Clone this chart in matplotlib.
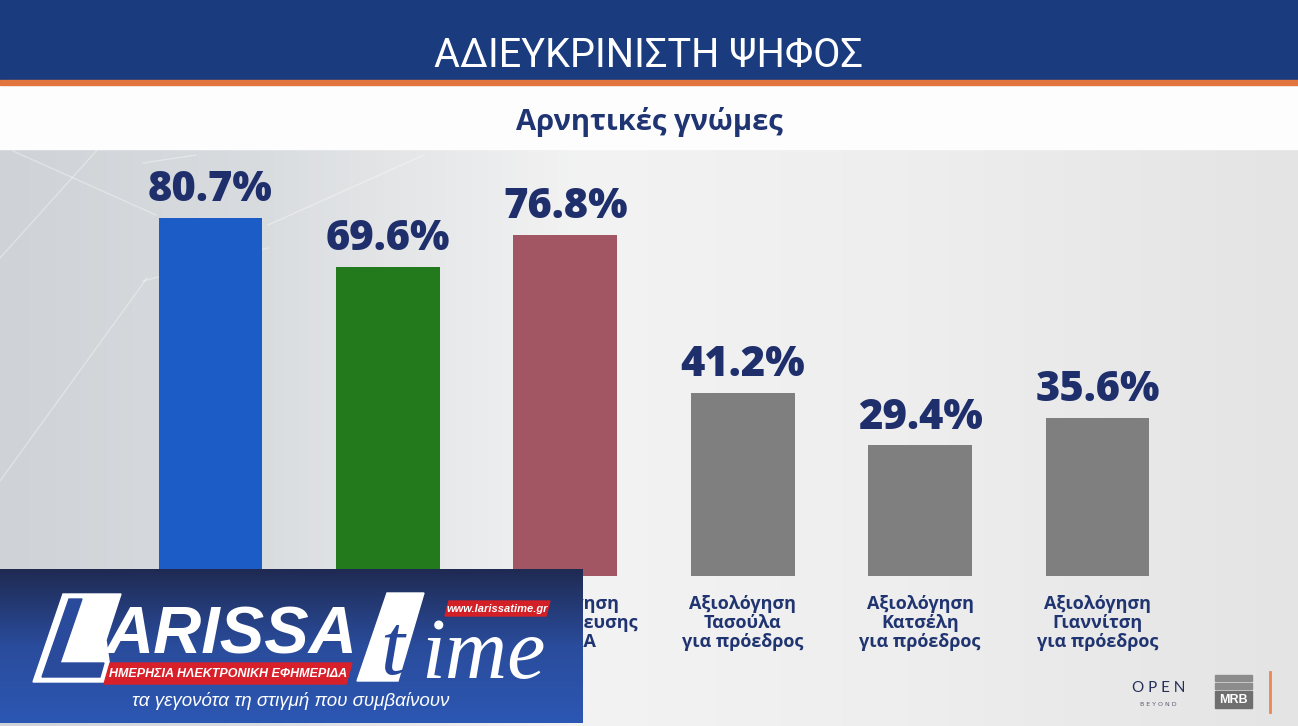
import matplotlib.pyplot as plt
import numpy as np
from matplotlib.patches import Polygon, Rectangle
from matplotlib.colors import LinearSegmentedColormap

W, H = 1298, 726

title = "ΑΔΙΕΥΚΡΙΝΙΣΤΗ ΨΗΦΟΣ"
subtitle = "Αρνητικές γνώμες"
categories = [
    "Αξιολόγηση\nκυβέρνησης",
    "Αξιολόγηση\nαντιπολίτευσης\nΠΑΣΟΚ",
    "Αξιολόγηση\nαντιπολίτευσης\nΣΥΡΙΖΑ",
    "Αξιολόγηση\nΤασούλα\nγια πρόεδρος",
    "Αξιολόγηση\nΚατσέλη\nγια πρόεδρος",
    "Αξιολόγηση\nΓιαννίτση\nγια πρόεδρος",
]
values = [80.7, 69.6, 76.8, 41.2, 29.4, 35.6]
bar_colors = ["#1c5cc6", "#237a1d", "#a25562", "#7f7f7f", "#7f7f7f", "#7f7f7f"]

NAVY = "#1f2f6c"

fig = plt.figure(figsize=(W / 100, H / 100), dpi=100)

# --- background layer (pixel coords) ---
bg = fig.add_axes([0, 0, 1, 1])
bg_cmap = LinearSegmentedColormap.from_list(
    "bg", [(0, "#cfd3d7"), (0.2, "#d9dcdf"), (0.45, "#f3f3f3"), (0.7, "#eeeeee"), (1, "#e4e4e4")])
bg.imshow(np.linspace(0, 1, 256)[None, :], cmap=bg_cmap, extent=(0, W, H, 149), aspect="auto")
# faint light streaks on the left
for (x0, y0), (x1, y1) in [((98, 149), (0, 258)), ((13, 151), (156, 215)), ((143, 281), (268, 248)),
                           ((268, 225), (424, 155)), ((143, 163), (196, 155)), ((0, 481), (147, 278))]:
    bg.plot([x0, x1], [y0, y1], color="white", lw=1, alpha=0.35)
bg.add_patch(Rectangle((0, 85), W, 64, color="#fdfdfd"))
bg.add_patch(Rectangle((0, 0), W, 80, color="#1a3c7e"))
bg.add_patch(Rectangle((0, 80), W, 5, color="#e2743e"))
bg.text(W / 2, 67, title, ha="center", va="baseline", color="white",
        fontsize=28.5, family="Roboto", fontweight="normal")
bg.text(W / 2, 130, subtitle, ha="center", va="baseline", color="#1f3472",
        fontsize=21, family="Open Sans", fontweight="bold")
bg.set_xlim(0, W)
bg.set_ylim(H, 0)
bg.axis("off")

# --- bars ---
ax = fig.add_axes([0, (H - 576) / H, 1, 444 / H])
ax.patch.set_alpha(0)
x = np.arange(len(values))
ax.bar(x, values, width=0.586, color=bar_colors)
for i, v in enumerate(values):
    ax.annotate(f"{v:.1f}%", (i, v), xytext=(0, 12), textcoords="offset points",
                ha="center", va="baseline", fontsize=30, fontweight="heavy",
                family="Open Sans", color=NAVY)
    ax.annotate(categories[i], (i, 0), xytext=(0, -14), textcoords="offset points",
                ha="center", va="top", fontsize=13, fontweight="bold",
                family="Open Sans", color="#1f3470", linespacing=1.05)
ax.set_xlim(-210.5 / 177.4, (W - 210.5) / 177.4)
ax.set_ylim(0, 100)
ax.axis("off")

# --- overlay: larissatime logo + source logos ---
ov = fig.add_axes([0, 0, 1, 1])
ov.patch.set_alpha(0)
logo_cmap = LinearSegmentedColormap.from_list("logo", ["#1f2a52", "#2a4c9c", "#2c57b3"])
ov.imshow(np.linspace(0, 1, 256)[:, None], cmap=logo_cmap, extent=(0, 583, 723, 569), aspect="auto")

# the "L" block
ov.add_patch(Polygon([(33, 682), (63, 594), (121, 594), (106, 640), (112, 682)], color="white"))
ov.add_patch(Polygon([(42, 677), (69, 599), (82, 599), (60, 663), (104, 663), (100, 677)], color="#2a4a9c"))
ov.text(105, 654, "ARISSA", ha="left", va="baseline", color="white", fontsize=48,
        family="Liberation Sans", fontweight="bold", style="italic")

# red badge
ov.add_patch(Polygon([(104, 684), (110, 663), (352, 663), (346, 684)], color="#d8202a"))
ov.text(228, 674, "ΗΜΕΡΗΣΙΑ ΗΛΕΚΤΡΟΝΙΚΗ ΕΦΗΜΕΡΙΔΑ", ha="center", va="center", color="white",
        fontsize=9, family="Liberation Sans", fontweight="bold", style="italic")

# "time"
ov.add_patch(Polygon([(357, 681), (387, 593), (424, 593), (398, 681)], color="white"))
ov.text(392, 674, "t", ha="center", va="baseline", color="#27479a", fontsize=62,
        family="Liberation Serif", style="italic")
ov.text(421, 678, "ime", ha="left", va="baseline", color="white", fontsize=62,
        family="Liberation Serif", style="italic")

ov.add_patch(Polygon([(445, 616), (449, 601), (550, 601), (546, 616)], color="#d31f26"))
ov.text(497, 609, "www.larissatime.gr", ha="center", va="center", color="white",
        fontsize=8, family="Liberation Sans", fontweight="bold", style="italic")
ov.text(291, 706, "τα γεγονότα τη στιγμή που συμβαίνουν", ha="center", va="baseline",
        color="white", fontsize=13.5, family="Liberation Sans", style="italic")

# OPEN / MRB
ov.text(1159, 692, "O P E N", ha="center", va="baseline", color="#27305a", fontsize=11,
        family="Lato", fontweight="normal")
ov.text(1158, 706, "B E Y O N D", ha="center", va="baseline", color="#5a6070", fontsize=4.5,
        family="DejaVu Sans")
ov.add_patch(Rectangle((1215, 675), 37, 6, color="#8c8c8c"))
ov.add_patch(Rectangle((1215, 683), 37, 6, color="#8c8c8c"))
ov.add_patch(Rectangle((1215, 691), 37, 17, color="#6f6f6f"))
ov.text(1233.5, 700, "MRB", ha="center", va="center", color="white", fontsize=9,
        family="Liberation Sans", fontweight="bold")
ov.plot([1270, 1270], [672, 712], color="#e8894f", lw=2)

ov.set_xlim(0, W)
ov.set_ylim(H, 0)
ov.axis("off")

fig.savefig("out.png", dpi=100)
